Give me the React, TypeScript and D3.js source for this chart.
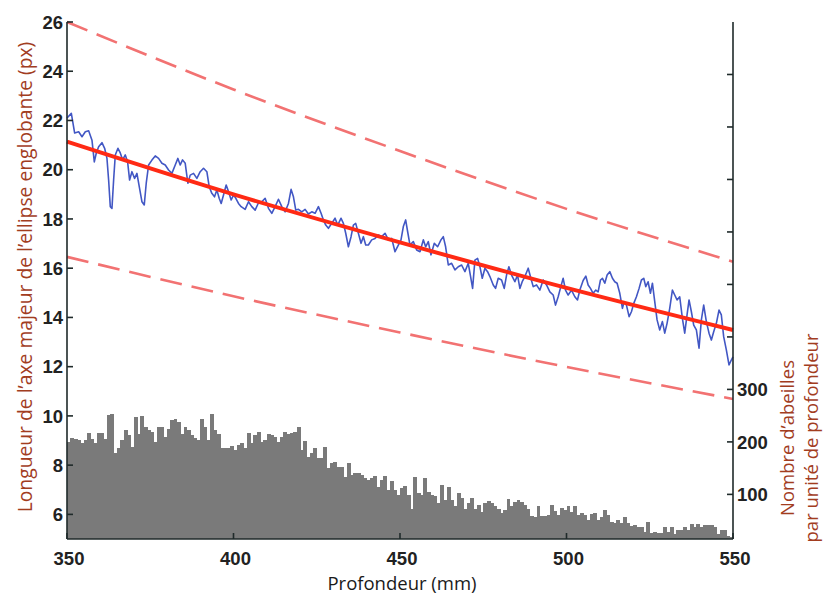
import React from "react";
import * as d3 from "d3";

// ---- data ----
const depthTicks = [350, 400, 450, 500, 550];
const lengthTicks = [6, 8, 10, 12, 14, 16, 18, 20, 22, 24, 26];
const countTicks = [100, 200, 300, 400, 500, 600, 700, 800, 900];
const countLabelTicks = [100, 200, 300];

// histogram: bees per 1 mm depth bin, from 350 to 550 mm
const histStart = 350;
const histCounts = [
  200, 207, 205, 204, 197, 204, 217, 205, 197, 217,
  217, 205, 251, 253, 178, 188, 204, 223, 213, 191,
  247, 216, 249, 229, 223, 219, 200, 229, 229, 210,
  224, 242, 243, 238, 216, 229, 223, 213, 207, 204,
  243, 229, 204, 253, 223, 216, 188, 188, 188, 192,
  185, 194, 198, 188, 217, 197, 213, 219, 200, 204,
  215, 213, 209, 200, 210, 219, 216, 217, 219, 229,
  185, 202, 172, 179, 188, 169, 169, 191, 150, 160,
  162, 153, 152, 134, 160, 137, 141, 141, 137, 131,
  127, 131, 135, 115, 127, 135, 108, 125, 108, 99,
  112, 116, 99, 73, 134, 102, 99, 131, 105, 99,
  96, 83, 118, 89, 115, 89, 77, 102, 93, 73,
  83, 93, 73, 80, 67, 84, 88, 84, 78, 73,
  64, 70, 91, 77, 86, 89, 86, 80, 73, 59,
  57, 77, 59, 59, 61, 80, 69, 61, 75, 70,
  77, 67, 77, 61, 64, 61, 51, 63, 64, 51,
  57, 70, 61, 48, 45, 51, 45, 57, 46, 40,
  42, 38, 38, 29, 48, 27, 29, 27, 27, 38,
  29, 38, 25, 32, 33, 38, 32, 44, 38, 44,
  38, 42, 42, 41, 38, 25, 33, 33, 21, 19,
];

// measured axis length (blue)
const measDepth = [
  350.0, 351.3, 352.3, 353.5, 354.5, 355.5, 356.5, 357.5, 358.2, 358.8,
  359.5, 360.5, 361.3, 362.0, 362.5, 363.0, 363.5, 364.0, 364.5, 365.3,
  366.0, 366.7, 367.5, 368.2, 368.8, 369.5, 370.3, 371.0, 371.7, 372.5,
  373.2, 373.8, 374.5, 375.5, 376.5, 377.5, 378.5, 379.5, 380.5, 381.5,
  382.5, 383.3, 384.0, 384.7, 385.5, 386.3, 387.0, 388.0, 389.0, 390.0,
  391.0, 392.0, 392.7, 393.5, 394.3, 395.0, 395.7, 396.3, 397.0, 397.8,
  398.5, 399.3, 400.0, 400.7, 401.5, 402.3, 403.5, 404.5, 405.5, 406.5,
  407.5, 408.5, 409.5, 410.5, 411.5, 412.5, 413.5, 414.5, 415.5, 416.5,
  417.3, 418.0, 418.7, 419.5, 420.5, 421.5, 422.5, 423.5, 424.5, 425.5,
  426.3, 427.0, 427.7, 428.5, 429.5, 430.5, 431.3, 432.3, 433.0, 433.7,
  434.5, 435.3, 436.0, 436.7, 437.5, 438.3, 439.0, 439.7, 440.5, 441.5,
  442.5, 443.5, 444.5, 445.5, 446.5, 447.5, 448.5, 449.5, 450.3, 451.0,
  451.7, 452.3, 453.0, 454.0, 455.0, 456.0, 457.0, 457.7, 458.5, 459.3,
  460.3, 461.3, 462.3, 463.0, 463.7, 464.5, 465.5, 466.5, 467.5, 468.5,
  469.5, 470.5, 471.2, 471.8, 472.5, 473.3, 474.0, 474.7, 475.5, 476.3,
  477.0, 478.0, 478.7, 479.5, 480.5, 481.3, 482.0, 482.7, 483.5, 484.5,
  485.3, 486.0, 486.7, 487.5, 488.5, 489.3, 490.0, 491.0, 492.0, 493.0,
  494.0, 495.0, 496.0, 496.7, 497.5, 498.3, 499.0, 499.7, 500.5, 501.5,
  502.5, 503.3, 504.0, 505.0, 505.8, 506.5, 507.2, 508.0, 508.8, 509.5,
  510.2, 510.8, 511.5, 512.2, 513.0, 513.8, 514.5, 515.2, 516.0, 516.8,
  517.3, 518.0, 518.8, 519.5, 520.2, 521.0, 521.8, 522.5, 523.2, 523.8,
  524.5, 525.2, 525.8, 526.5, 527.2, 528.0, 528.8, 529.5, 530.2, 531.0,
  531.8, 532.5, 533.2, 534.0, 534.8, 535.5, 536.2, 536.8, 537.5, 538.2,
  539.0, 539.8, 540.5, 541.2, 542.0, 542.8, 543.5, 544.2, 545.0, 545.8,
  546.5, 547.2, 548.0, 548.8, 549.5, 550.0,
];
const measLength = [
  22.10, 22.29, 21.49, 21.54, 21.34, 21.54, 21.58, 21.20, 20.32, 20.68,
  20.93, 21.10, 20.87, 20.46, 19.58, 18.50, 18.43, 19.58, 20.60, 20.87,
  20.68, 20.40, 20.60, 20.32, 19.58, 19.92, 19.65, 19.85, 19.31, 18.70,
  18.57, 19.46, 20.19, 20.39, 20.56, 20.46, 20.26, 20.19, 19.99, 19.85,
  20.19, 20.46, 20.19, 20.40, 20.26, 19.45, 19.78, 19.85, 19.65, 19.92,
  20.06, 19.92, 19.31, 19.04, 18.90, 19.18, 18.84, 18.63, 18.97, 19.38,
  19.11, 18.77, 18.97, 18.84, 18.63, 18.50, 18.39, 18.70, 18.50, 18.36,
  18.66, 18.70, 18.84, 18.43, 18.23, 18.50, 18.80, 18.50, 18.29, 18.63,
  19.20, 18.90, 18.36, 18.39, 18.29, 18.39, 18.20, 18.29, 18.23, 18.50,
  18.23, 17.96, 17.75, 17.62, 17.82, 18.03, 17.75, 18.03, 17.82, 17.42,
  16.87, 17.28, 17.75, 17.82, 17.42, 17.01, 17.28, 16.94, 16.94, 17.15,
  17.21, 17.35, 17.28, 17.42, 17.15, 17.21, 16.67, 16.94, 17.15, 17.69,
  17.96, 17.48, 16.94, 17.08, 16.74, 16.67, 17.15, 16.87, 17.08, 16.54,
  17.01, 16.87, 17.15, 17.28, 16.87, 16.13, 16.20, 15.93, 16.06, 16.13,
  15.86, 16.20, 15.66, 15.18, 16.33, 16.40, 16.06, 15.59, 16.00, 15.86,
  15.66, 15.32, 15.18, 15.59, 15.52, 15.18, 15.72, 16.06, 15.72, 15.45,
  15.72, 15.18, 15.45, 15.66, 16.00, 15.59, 15.25, 15.32, 15.11, 15.52,
  15.32, 15.04, 14.91, 14.50, 14.84, 15.25, 15.59, 15.11, 14.91, 15.11,
  14.84, 14.71, 15.11, 15.50, 15.68, 15.32, 15.18, 14.98, 15.11, 15.04,
  15.52, 15.59, 15.39, 15.72, 15.86, 15.59, 15.45, 15.39, 14.98, 14.37,
  14.64, 14.50, 14.03, 14.23, 14.57, 14.84, 15.18, 15.52, 15.59, 15.25,
  15.45, 14.98, 15.39, 14.64, 13.90, 13.49, 13.83, 13.36, 13.76, 14.37,
  15.11, 14.91, 14.71, 14.84, 13.96, 13.36, 14.10, 14.71, 14.23, 13.69,
  13.49, 12.75, 13.90, 14.50, 13.83, 13.36, 13.08, 13.42, 13.76, 14.30,
  14.10, 13.22, 12.68, 12.07, 12.27, 12.40,
];

// fitted curve (red) and its bounds (dashed)
const fitDepth = [350, 400, 450, 500, 550];
const fitLength = [21.14, 19.0, 17.05, 15.2, 13.49];
const upperLength = [26.0, 23.26, 20.76, 18.41, 16.26];
const lowerLength = [16.46, 14.86, 13.39, 11.99, 10.69];

// ---- component ----
export default function App() {
  const W = 826;
  const H = 597;
  const left = 67;
  const right = 733;
  const top = 22;
  const bottom = 539;

  const x = d3.scaleLinear().domain([350, 550]).range([left, right]);
  const yL = d3.scaleLinear().domain([5, 26]).range([bottom, top]);
  const yR = d3.scaleLinear().domain([15, 1000]).range([bottom, top]);

  const measLine = d3
    .line<number>()
    .x((_, i) => x(measDepth[i]))
    .y((d) => yL(d))(measLength) as string;

  const curveLine = (vals: number[]) =>
    d3
      .line<number>()
      .curve(d3.curveMonotoneX)
      .x((_, i) => x(fitDepth[i]))
      .y((d) => yL(d))(vals) as string;

  const axisColor = "#1f2a2a";
  const tickFont = "'Liberation Sans', Arial, sans-serif";
  const titleFont = "'Open Sans', Lato, sans-serif";
  const titleColor = "#a23d1f";

  return (
    <svg
      width={W}
      height={H}
      style={{ position: "absolute", left: 0, top: 0, background: "#fff" }}
    >
      {/* histogram */}
      <g fill="#7a7a7a" shapeRendering="crispEdges">
        {histCounts.map((c, i) => (
          <rect
            key={i}
            x={x(histStart + i)}
            width={x(histStart + i + 1) - x(histStart + i) + 0.6}
            y={yR(c)}
            height={bottom - yR(c)}
          />
        ))}
      </g>

      {/* dashed bounds */}
      <path
        d={curveLine(upperLength)}
        fill="none"
        stroke="#f27272"
        strokeWidth={2.6}
        strokeDasharray="22 10"
      />
      <path
        d={curveLine(lowerLength)}
        fill="none"
        stroke="#f27272"
        strokeWidth={2.6}
        strokeDasharray="22 10"
      />

      {/* measured */}
      <path
        d={measLine}
        fill="none"
        stroke="#4257c4"
        strokeWidth={1.6}
        strokeLinejoin="round"
      />

      {/* fit */}
      <path
        d={curveLine(fitLength)}
        fill="none"
        stroke="#ff2a14"
        strokeWidth={4}
      />

      {/* axes lines */}
      <g stroke={axisColor} strokeWidth={1.6} fill="none">
        <line x1={left} x2={left} y1={top} y2={bottom} />
        <line x1={right} x2={right} y1={top} y2={bottom} />
        <line x1={left} x2={right} y1={bottom} y2={bottom} />
      </g>

      {/* ticks */}
      <g stroke={axisColor} strokeWidth={1.6}>
        {lengthTicks.map((t) => (
          <line key={t} x1={left} x2={left + 6} y1={yL(t)} y2={yL(t)} />
        ))}
        {countTicks.map((t) => (
          <line key={t} x1={right - 6} x2={right} y1={yR(t)} y2={yR(t)} />
        ))}
        {depthTicks.map((t) => (
          <line key={t} x1={x(t)} x2={x(t)} y1={bottom} y2={bottom - 6} />
        ))}
      </g>

      <g fontFamily={tickFont} fontWeight="bold" fontSize={18.5} fill="#222">
        {lengthTicks.map((t) => (
          <text key={t} x={left - 4} y={yL(t)} dy="0.36em" textAnchor="end">
            {t}
          </text>
        ))}
        {countLabelTicks.map((t) => (
          <text key={t} x={right + 4} y={yR(t)} dy="0.36em" textAnchor="start">
            {t}
          </text>
        ))}
        {depthTicks.map((t) => (
          <text key={t} x={x(t) + 2} y={565} textAnchor="middle">
            {t}
          </text>
        ))}
      </g>

      {/* titles */}
      <text
        x={402}
        y={590}
        textAnchor="middle"
        fontFamily={titleFont}
        fontSize={18.5}
        fill="#1a1a1a"
      >
        Profondeur (mm)
      </text>
      <text
        transform="translate(32,277) rotate(-90)"
        textAnchor="middle"
        fontFamily={titleFont}
        fontSize={19.3}
        fill={titleColor}
      >
        Longueur de l’axe majeur de l’ellipse englobante (px)
      </text>
      <text
        transform="translate(794,438) rotate(-90)"
        textAnchor="middle"
        fontFamily={titleFont}
        fontSize={18.5}
        fill={titleColor}
      >
        Nombre d’abeilles
      </text>
      <text
        transform="translate(818,438) rotate(-90)"
        textAnchor="middle"
        fontFamily={titleFont}
        fontSize={18.5}
        fill={titleColor}
      >
        par unité de profondeur
      </text>
    </svg>
  );
}
